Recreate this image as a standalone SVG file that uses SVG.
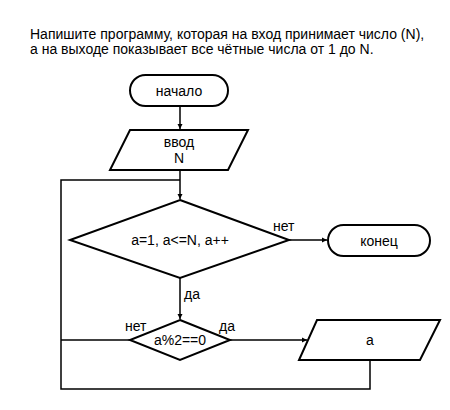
<svg xmlns="http://www.w3.org/2000/svg" width="450" height="410" viewBox="0 0 450 410">
<style>
text{font-family:"Liberation Sans",Arial,sans-serif;fill:#000}
.t{font-size:14px}
.n{font-size:14px;text-anchor:middle;dominant-baseline:central}
.l{font-size:14px;dominant-baseline:central}
.s{fill:#fff;stroke:#000;stroke-width:2}
.c{fill:none;stroke:#000;stroke-width:1.5}
</style>
<defs>
<marker id="a" markerWidth="6" markerHeight="6" refX="5" refY="3" orient="auto" markerUnits="userSpaceOnUse">
<path d="M0,0.5 L5,3 L0,5.5 z" fill="#000"/>
</marker>
</defs>
<rect width="450" height="410" fill="#fff"/>
<text class="t" x="30" y="38.5">Напишите программу, которая на вход принимает число (N),</text>
<text class="t" x="30" y="53.5">а на выходе показывает все чётные числа от 1 до N.</text>
<g id="connectors">
<path class="c" d="M180,106 V129" marker-end="url(#a)"/>
<path class="c" d="M180,170 V199" marker-end="url(#a)"/>
<path class="c" d="M289,240 H327" marker-end="url(#a)"/>
<path class="c" d="M180,278 V319" marker-end="url(#a)"/>
<path class="c" d="M230,340 H307" marker-end="url(#a)"/>
<path class="c" d="M130,340 H61"/>
<path class="c" d="M370,360 V389 H61 V180 H180"/>
</g>
<g id="start">
<rect class="s" x="130" y="75" width="98" height="31" rx="15.5"/>
<text class="n" x="179" y="90.5">начало</text>
</g>
<g id="input">
<polygon class="s" points="130,130 248,130 228,170 110,170"/>
<text class="n" x="179" y="142">ввод</text>
<text class="n" x="179" y="158">N</text>
</g>
<g id="loop">
<polygon class="s" points="180,200 289,240 180,278 70,240"/>
<text class="n" x="180" y="240">a=1, a&lt;=N, a++</text>
</g>
<g id="end">
<rect class="s" x="328" y="225" width="102" height="31" rx="15.5"/>
<text class="n" x="379" y="240.5">конец</text>
</g>
<g id="check">
<polygon class="s" points="180,320 230,340 180,360 130,340"/>
<text class="n" x="180" y="340">a%2==0</text>
</g>
<g id="output">
<polygon class="s" points="317,320 440,320 420,360 299,360"/>
<text class="n" x="370" y="340">a</text>
</g>
<g id="labels">
<text class="l" x="273" y="226">нет</text>
<text class="l" x="184" y="294">да</text>
<text class="l" x="125" y="326">нет</text>
<text class="l" x="219" y="326">да</text>
</g>
</svg>
